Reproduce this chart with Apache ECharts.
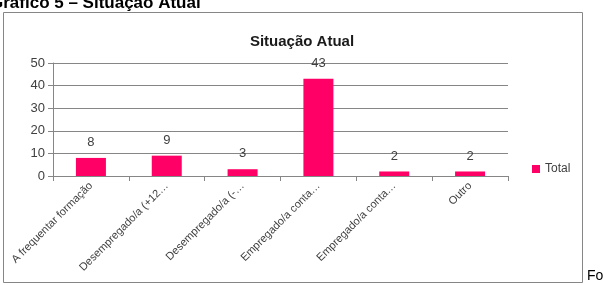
<!DOCTYPE html>
<html><head><meta charset="utf-8">
<script src="https://cdn.jsdelivr.net/npm/echarts@6/dist/echarts.min.js"></script>
<style>html,body{margin:0;padding:0;background:#fff}#c{width:603px;height:285px}</style>
</head><body><div id="c"></div>
<script>
var categories = ["A frequentar formação", "Desempregado/a (+12…", "Desempregado/a (-…", "Empregado/a conta…", "Empregado/a conta…", "Outro"];
var totals = [8, 9, 3, 43, 2, 2];
var yTicks = [0, 10, 20, 30, 40, 50];
var chart = echarts.init(document.getElementById('c'));
chart.setOption({
  animation: false,
  title: {text: 'Situação Atual', left: 297, top: 29, textAlign: 'center',
    textStyle: {fontFamily: 'Liberation Sans', fontWeight: 'bold', fontSize: 15, color: '#1a1a1a'}},
  legend: {data: ['Total'], left: 527, top: 158, icon: 'rect', itemWidth: 8, itemHeight: 8, itemGap: 3,
    textStyle: {fontFamily: 'Liberation Sans', fontSize: 12, color: '#404040'}},
  grid: {left: 53, right: 95, top: 63, bottom: 109},
  xAxis: {type: 'category', data: categories,
    axisLine: {lineStyle: {color: '#868686'}},
    axisTick: {show: true, length: 5, lineStyle: {color: '#868686'}},
    axisLabel: {rotate: 45, fontFamily: 'Liberation Sans', fontSize: 11, color: '#404040', margin: 8, interval: 0}},
  yAxis: {type: 'value', min: yTicks[0], max: yTicks[yTicks.length-1], interval: 10,
    axisLine: {show: true, lineStyle: {color: '#868686'}},
    axisTick: {show: true, length: 5, lineStyle: {color: '#868686'}},
    splitLine: {lineStyle: {color: '#868686'}},
    axisLabel: {fontFamily: 'Liberation Sans', fontSize: 13, color: '#404040', margin: 8}},
  series: [{name: 'Total', type: 'bar', data: totals, barWidth: 30,
    itemStyle: {color: '#FF0066'},
    label: {show: true, position: 'top', distance: 9, fontFamily: 'Liberation Sans', fontSize: 13, color: '#404040'}}],
  graphic: [
    {type: 'rect', shape: {x: 3.5, y: 12.5, width: 579, height: 270}, style: {fill: 'none', stroke: '#868686', lineWidth: 1}, z: -1},
    {type: 'text', left: -10, top: -5, style: {text: 'Gráfico 5 – Situação Atual', font: 'bold 17px "Liberation Sans"', fill: '#000'}},
    {type: 'text', left: 587, top: 269, style: {text: 'Fonte', font: '14px "Liberation Sans"', fill: '#000'}}
  ]
});
</script></body></html>
